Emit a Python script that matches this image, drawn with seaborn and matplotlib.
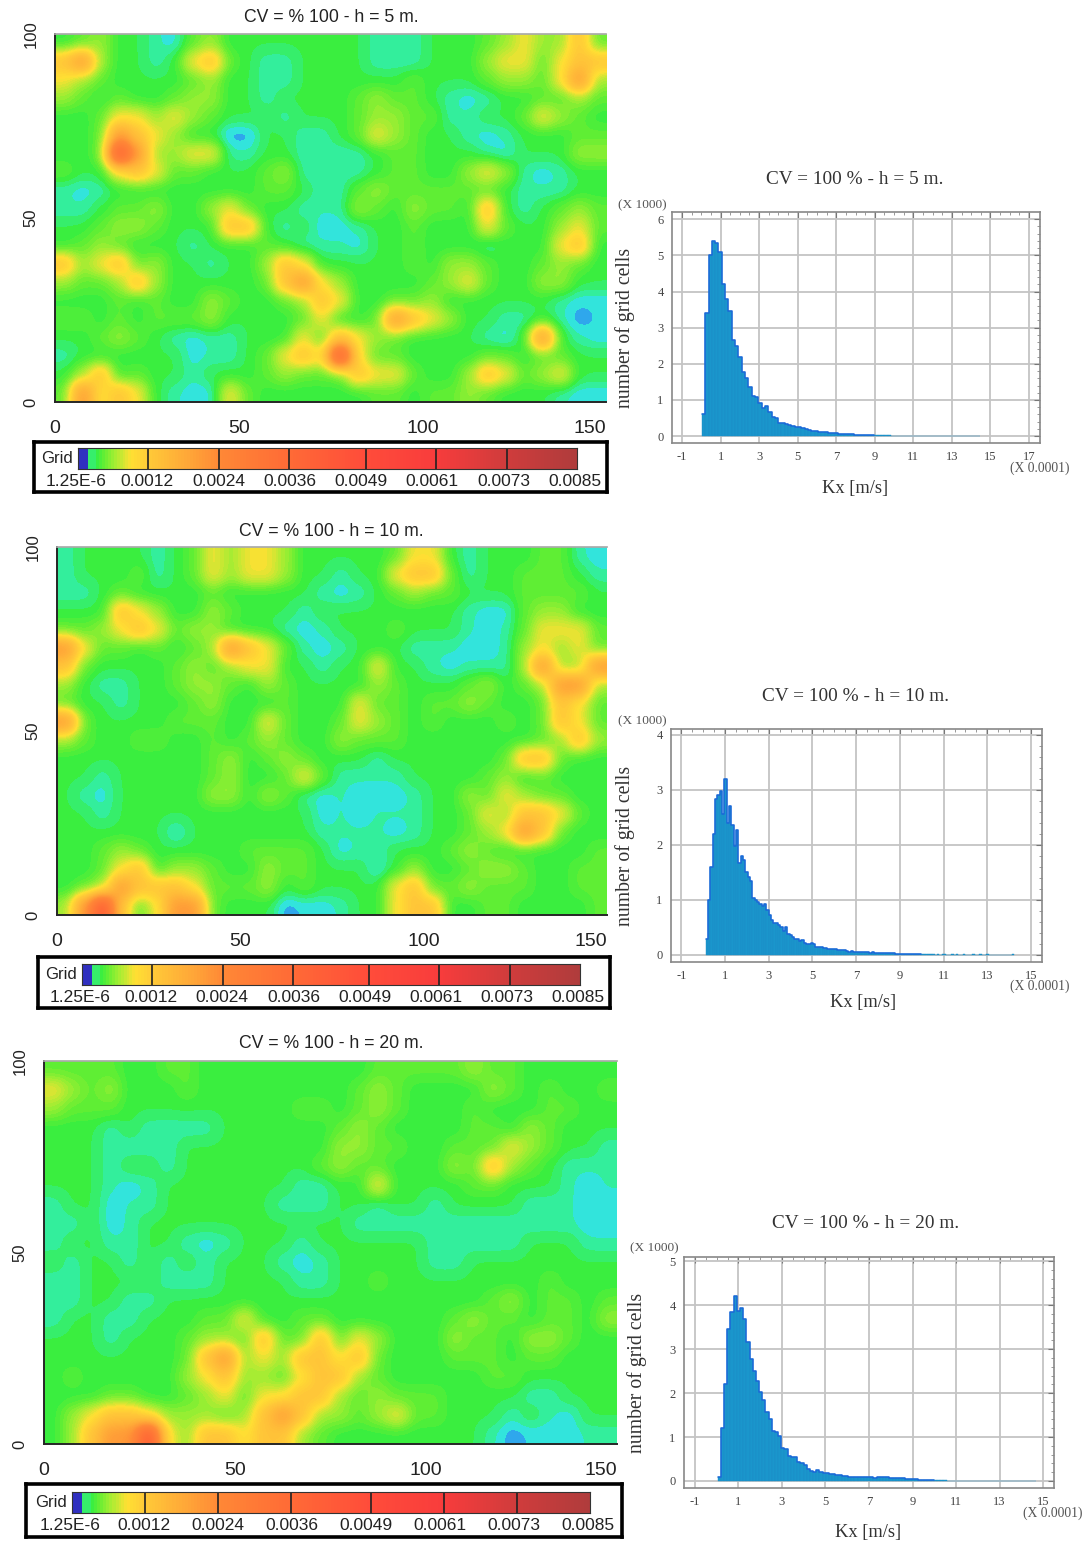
import numpy as np
import seaborn as sns
import matplotlib.pyplot as plt
from matplotlib.colors import LinearSegmentedColormap

FIG_W, FIG_H = 1091, 1544
VMAX = 0.0085

# conductivity of each colour class used in the map grids below
LEVEL_VALUES = [0.00011, 0.00016, 0.00021, 0.00031, 0.00042, 0.00058, 0.00088, 0.0013, 0.0021, 0.0042]

# maps, top row is y = 100, one digit per 5 m x 5 m block
MAP_5M = [
	"34533 21453 33333 33222 33345 65574",
	"78533 23674 32233 33222 33356 64677",
	"65433 33453 32233 33334 33345 54685",
	"54343 34553 32333 34544 32123 34454",
	"33466 56543 33233 34554 42233 46543",
	"33487 65330 03322 34654 33212 33344",
	"33498 55662 23322 22344 33321 33355",
	"43367 64433 34522 22344 33565 21233",
	"21233 33333 34432 24544 44443 22233",
	"22344 53356 43322 25435 44373 23454",
	"33455 43337 73231 12334 33364 33564",
	"34543 33233 34322 21334 33323 33673",
	"75674 53323 35763 33334 35543 34543",
	"54457 53333 34786 53333 45643 35533",
	"33343 43354 33457 63344 53333 33211",
	"44343 44453 33346 33487 65332 23201",
	"33454 32122 33364 76543 33321 38321",
	"23333 33122 34676 96443 33344 34433",
	"35734 33233 34544 47664 33576 45633",
	"48676 32116 43333 33443 44543 33211",
]
MAP_10M = [
	"23333 23465 66533 33346 63233 34421",
	"23334 23465 66533 23367 74233 44432",
	"22343 33343 33332 12345 44333 44443",
	"33376 53354 33323 33333 33211 45533",
	"44567 64553 33212 33343 33212 46664",
	"86443 43458 76421 23332 22112 56564",
	"74333 34545 66332 33633 21222 58558",
	"53223 34554 35433 33543 33453 45885",
	"43323 33453 33433 36443 44543 34764",
	"84333 34443 36433 46543 43334 34764",
	"54334 43343 45433 54443 33333 34575",
	"33333 33345 34543 33233 33334 77433",
	"33233 33345 33464 22223 33345 34333",
	"32133 33355 35421 21112 33546 54433",
	"33233 33333 33331 21222 33465 77643",
	"33333 31333 33332 22212 33456 87433",
	"33454 33333 44443 12233 34543 33334",
	"33467 35543 35443 33135 33455 43344",
	"34587 77644 45343 33367 44544 43344",
	"58974 68843 33011 23367 73344 33334",
]
MAP_20M = [
	"44443 34433 33333 33444 44544 33333",
	"65453 33433 33333 34543 33354 34334",
	"54443 33333 33344 34543 33433 34433",
	"33323 22223 33333 45433 33443 54333",
	"33322 22333 33333 55443 34446 54332",
	"33323 32333 33334 54433 35475 43222",
	"33321 23333 33322 33633 33443 33212",
	"23312 23333 33222 33233 23333 22211",
	"22312 33333 33333 32222 22222 22211",
	"23322 33212 33323 33333 22222 33322",
	"32332 32323 33212 33333 22333 33333",
	"22333 32223 33322 33433 33333 34333",
	"22332 23333 33333 33333 33345 34434",
	"23322 33344 63344 33333 34544 34435",
	"33323 33455 47447 46533 35443 55433",
	"33333 33478 56577 67433 34443 44333",
	"34333 33567 55467 75433 33344 33333",
	"33344 33456 46677 54544 43333 22333",
	"35677 65554 57875 54564 43332 32133",
	"35788 96577 67754 33333 33320 11122",
]

# histogram heights in thousands of grid cells
HIST_5M = [0.6, 3.4, 5.0, 5.4, 5.35, 5.1, 4.2, 3.8, 3.45, 2.67, 2.5, 2.2, 1.77, 1.6, 1.37, 1.12, 1.08, 0.93,
	0.77, 0.82, 0.68, 0.53, 0.5, 0.36, 0.35, 0.33, 0.3, 0.27, 0.26, 0.25, 0.22, 0.2, 0.18, 0.15, 0.13, 0.12,
	0.12, 0.11, 0.1, 0.08, 0.08, 0.07, 0.07, 0.06, 0.05, 0.05, 0.04, 0.04, 0.04, 0.03, 0.03, 0.03, 0.03, 0.03,
	0.02, 0.02, 0.02, 0.01, 0.01, 0.01, 0.01, 0.0, 0.01, 0.01, 0.0, 0.01, 0.0, 0.0, 0.01, 0.0, 0.0, 0.01, 0.0,
	0.0, 0.0, 0.0, 0.01, 0.0, 0.0, 0.01, 0.0, 0.0, 0.0, 0.01]
HIST_10M = [0.28, 1.0, 1.6, 2.2, 2.83, 2.9, 2.97, 2.55, 3.2, 2.4, 2.7, 2.35, 1.97, 2.26, 1.66, 1.8, 1.72, 1.5,
	1.42, 1.34, 1.04, 1.0, 0.96, 0.93, 0.88, 0.93, 0.82, 0.72, 0.64, 0.58, 0.58, 0.54, 0.5, 0.43, 0.5, 0.38,
	0.36, 0.33, 0.28, 0.28, 0.26, 0.27, 0.22, 0.2, 0.2, 0.21, 0.19, 0.15, 0.14, 0.14, 0.13, 0.12, 0.1, 0.1,
	0.11, 0.1, 0.09, 0.08, 0.08, 0.09, 0.07, 0.06, 0.07, 0.06, 0.06, 0.06, 0.05, 0.05, 0.06, 0.05, 0.04, 0.05,
	0.04, 0.04, 0.04, 0.03, 0.03, 0.04, 0.03, 0.03, 0.03, 0.02, 0.02, 0.02, 0.02, 0.02, 0.01, 0.02, 0.01, 0.01,
	0.01, 0.01, 0.01, 0.01, 0.01, 0.01, 0.01, 0.01, 0.0, 0.01, 0.0, 0.01, 0.01, 0.0, 0.0, 0.01, 0.0, 0.01, 0.0,
	0.0, 0.01, 0.0, 0.0, 0.0, 0.01, 0.0, 0.0, 0.01, 0.0, 0.0, 0.01, 0.0, 0.0, 0.0, 0.0, 0.0, 0.0, 0.0, 0.0, 0.0,
	0.0, 0.01]
HIST_20M = [0.1, 1.2, 2.2, 3.47, 3.84, 4.22, 3.88, 3.93, 3.69, 3.17, 2.78, 2.5, 2.28, 2.03, 1.84, 1.56, 1.4,
	1.13, 1.11, 1.02, 0.75, 0.73, 0.56, 0.54, 0.54, 0.43, 0.4, 0.37, 0.27, 0.23, 0.2, 0.24, 0.2, 0.19, 0.18,
	0.16, 0.15, 0.13, 0.13, 0.11, 0.12, 0.1, 0.09, 0.1, 0.1, 0.09, 0.09, 0.08, 0.08, 0.07, 0.09, 0.08, 0.09,
	0.09, 0.07, 0.06, 0.06, 0.06, 0.06, 0.05, 0.04, 0.04, 0.04, 0.03, 0.03, 0.03, 0.03, 0.02, 0.02, 0.02, 0.02,
	0.02, 0.01, 0.01, 0.01, 0.01, 0.01, 0.01, 0.01, 0.01, 0.01, 0.01, 0.01, 0.01, 0.01, 0.01, 0.01, 0.01, 0.01,
	0.01, 0.01, 0.01, 0.01, 0.01, 0.01, 0.01, 0.01, 0.01, 0.01, 0.01]

LEGEND_TICKS = [0.0012, 0.0024, 0.0036, 0.0049, 0.0061, 0.0073]
LEGEND_LABELS = ["1.25E-6", "0.0012", "0.0024", "0.0036", "0.0049", "0.0061", "0.0073", "0.0085"]

CMAP_STOPS = [
	(0.0, "#3030c0"), (0.00006, "#2f60dd"), (0.00011, "#30b8f0"), (0.00016, "#33eed8"), (0.00021, "#33ee90"),
	(0.0003, "#3aee40"), (0.00042, "#66ee33"), (0.00058, "#a0ee33"), (0.00088, "#ffe033"), (0.0012, "#ffc838"),
	(0.0018, "#ffaa38"), (0.0024, "#ff8836"), (0.0036, "#ff6a36"), (0.0049, "#ff4c3a"), (0.0061, "#f83c3c"),
	(0.0073, "#d03c3c"), (0.0085, "#b03c3c"),
]
KX_CMAP = LinearSegmentedColormap.from_list(
	"kx", [(v / VMAX, c) for v, c in CMAP_STOPS], N=170
)


def pixel_axes(fig, left, top, right, bottom):
	return fig.add_axes([left / FIG_W, 1 - bottom / FIG_H, (right - left) / FIG_W, (bottom - top) / FIG_H])


def pixel_text(fig, x, y, label, **kwargs):
	kwargs.setdefault("ha", "center")
	kwargs.setdefault("va", "center")
	fig.text(x / FIG_W, 1 - y / FIG_H, label, **kwargs)


def parse_map(rows):
	codes = [[int(ch) for ch in "".join(row.split())] for row in rows]
	return np.array(LEVEL_VALUES)[np.array(codes)]


def draw_map(fig, rows, box, title, title_xy):
	ax = pixel_axes(fig, *box)
	ax.imshow(
		parse_map(rows), cmap=KX_CMAP, vmin=0, vmax=VMAX, extent=(0, 150, 0, 100),
		aspect="auto", interpolation="gaussian"
	)
	ax.set_xlim(0, 150)
	ax.set_ylim(0, 100)
	ax.set_xticks([0, 50, 100, 150])
	ax.set_yticks([0, 50, 100])
	ax.set_xticks(np.arange(0, 151, 10), minor=True)
	ax.set_yticks(np.arange(0, 101, 10), minor=True)
	ax.tick_params(which="major", length=7, width=1, color="#222222", pad=6)
	ax.tick_params(which="minor", length=4, width=1, color="#222222")
	ax.tick_params(axis="x", which="major", labelsize=14, labelcolor="#222222")
	ax.tick_params(axis="y", which="major", labelsize=12, labelcolor="#222222", pad=5)
	plt.setp(ax.get_yticklabels(), rotation=90, va="center")
	ax.get_xticklabels()[-1].set_ha("right")
	ax.spines["right"].set_visible(False)
	ax.spines["top"].set_color("#aaaaaa")
	ax.spines["left"].set_linewidth(1.4)
	ax.spines["bottom"].set_linewidth(1.4)
	pixel_text(fig, *title_xy, title, fontsize=12.7, color="#222222")


def draw_legend(fig, frame, strip):
	frame_ax = pixel_axes(fig, *frame)
	frame_ax.set_xticks([])
	frame_ax.set_yticks([])
	for spine in frame_ax.spines.values():
		spine.set_visible(True)
		spine.set_linewidth(2.6)
		spine.set_color("black")

	strip_ax = pixel_axes(fig, *strip)
	# the legend of the original jumps straight from its blue class to green
	gradient = np.linspace(0, VMAX, 500)
	gradient = np.where(gradient < 0.00016, 0.00001, np.maximum(gradient, 0.0003)).reshape(1, -1)
	sns.heatmap(gradient, ax=strip_ax, cmap=KX_CMAP, vmin=0, vmax=VMAX, cbar=False, xticklabels=False, yticklabels=False)
	for tick in LEGEND_TICKS:
		strip_ax.axvline(tick / VMAX * 500, color="#222222", lw=1.2)
	for spine in strip_ax.spines.values():
		spine.set_visible(True)
		spine.set_linewidth(0.8)
		spine.set_color("#333333")

	pixel_text(fig, strip[0] - 21, (strip[1] + strip[3]) / 2, "Grid", fontsize=12, color="#222222")
	step = (strip[2] - strip[0]) / 7
	label_y = strip[3] + 13
	for i, label in enumerate(LEGEND_LABELS):
		pixel_text(fig, strip[0] + step * i - 2, label_y, label, fontsize=12.5, color="#222222")


def draw_hist(fig, values, dense_bins, start, width, box, x_max, y_max, y_lim, x_lim, title, title_xy, xlabel_xy, ylabel_x, note_xy, scale_xy):
	ax = pixel_axes(fig, *box)
	edges = start + width * np.arange(len(values) + 1)
	centres = (edges[:-1] + edges[1:]) / 2
	bins = edges.tolist()
	sns.histplot(x=centres, weights=values, bins=bins, ax=ax, color="#1a96cc", alpha=1, edgecolor="#1a8cc6", linewidth=0.3)
	# dark outline only where the bars are dense, the far tail stays faint
	sns.histplot(x=centres[:dense_bins], weights=values[:dense_bins], bins=bins[:dense_bins + 1], ax=ax,
		element="step", fill=False, color="#1a68d8", linewidth=1.1)
	ax.set_xlim(*x_lim)
	ax.set_ylim(*y_lim)
	ax.set_xlabel("")
	ax.set_ylabel("")
	x_ticks = np.arange(-1, x_max + 1, 2)
	ax.set_xticks(x_ticks)
	ax.set_yticks(np.arange(0, y_max + 1))
	ax.set_xticks(np.arange(-1, x_max + 0.1, 0.5), minor=True)
	ax.set_yticks(np.arange(0, y_max + 0.01, 0.2), minor=True)
	ax.grid(True, which="major", color="#c4c4c4", linewidth=1.3)
	ax.set_axisbelow(True)
	ax.tick_params(which="major", direction="in", length=4, width=0.8, color="#777777", top=True, right=True,
		labelsize=9, labelcolor="#444444", pad=6)
	ax.tick_params(which="minor", direction="in", length=2, width=0.6, color="#888888", top=True, right=True)
	for spine in ax.spines.values():
		spine.set_visible(True)
		spine.set_color("#888888")
		spine.set_linewidth(1.2)
	pixel_text(fig, *title_xy, title, fontsize=13.9, color="#333333")
	pixel_text(fig, *xlabel_xy, "Kx [m/s]", fontsize=13.3, color="#333333")
	pixel_text(fig, ylabel_x, (box[1] + box[3]) / 2, "number of grid cells", fontsize=14.2, rotation=90, color="#333333")
	pixel_text(fig, *note_xy, "(X 1000)", fontsize=9.6, color="#555555")
	pixel_text(fig, *scale_xy, "(X 0.0001)", fontsize=9.8, color="#555555")


sns.set_theme(style="white")
plt.rcParams["font.family"] = ["Liberation Sans", "DejaVu Sans"]
plt.rcParams["axes.unicode_minus"] = False
fig = plt.figure(figsize=(FIG_W / 100, FIG_H / 100), dpi=100, facecolor="white")

draw_map(fig, MAP_5M, (55, 34, 606, 402), "CV = % 100 - h = 5 m.", (331, 18))
draw_legend(fig, (34, 442, 607, 492), (78, 448, 577, 469))
draw_map(fig, MAP_10M, (57, 547, 607, 915), "CV = % 100 - h = 10 m.", (331, 532))
draw_legend(fig, (38, 957, 610, 1008), (82, 964, 580, 985))
draw_map(fig, MAP_20M, (44, 1061, 617, 1444), "CV = % 100 - h = 20 m.", (331, 1043))
draw_legend(fig, (26, 1484, 622, 1537), (72, 1492, 590, 1513))

plt.rcParams["font.family"] = ["Liberation Serif", "DejaVu Serif"]
draw_hist(fig, HIST_5M, 52, 0.03, 0.172, (672, 212, 1040, 443), 17, 6, (-0.19, 6.2), (-1.52, 17.57),
	"CV = 100 % - h = 5 m.", (855, 180), (855, 488), 625, (642, 205), (1040, 468))
draw_hist(fig, HIST_10M, 92, 0.11, 0.107, (671, 729, 1042, 962), 15, 4, (-0.13, 4.1), (-1.47, 15.5),
	"CV = 100 % - h = 10 m.", (856, 696), (863, 1002), 625, (642, 721), (1040, 986))
draw_hist(fig, HIST_20M, 68, 0.05, 0.146, (684, 1257, 1054, 1488), 15, 5, (-0.16, 5.1), (-1.5, 15.5),
	"CV = 100 % - h = 20 m.", (866, 1224), (868, 1532), 637, (654, 1248), (1053, 1513))

fig.savefig("out.png", dpi=100, facecolor="white")
